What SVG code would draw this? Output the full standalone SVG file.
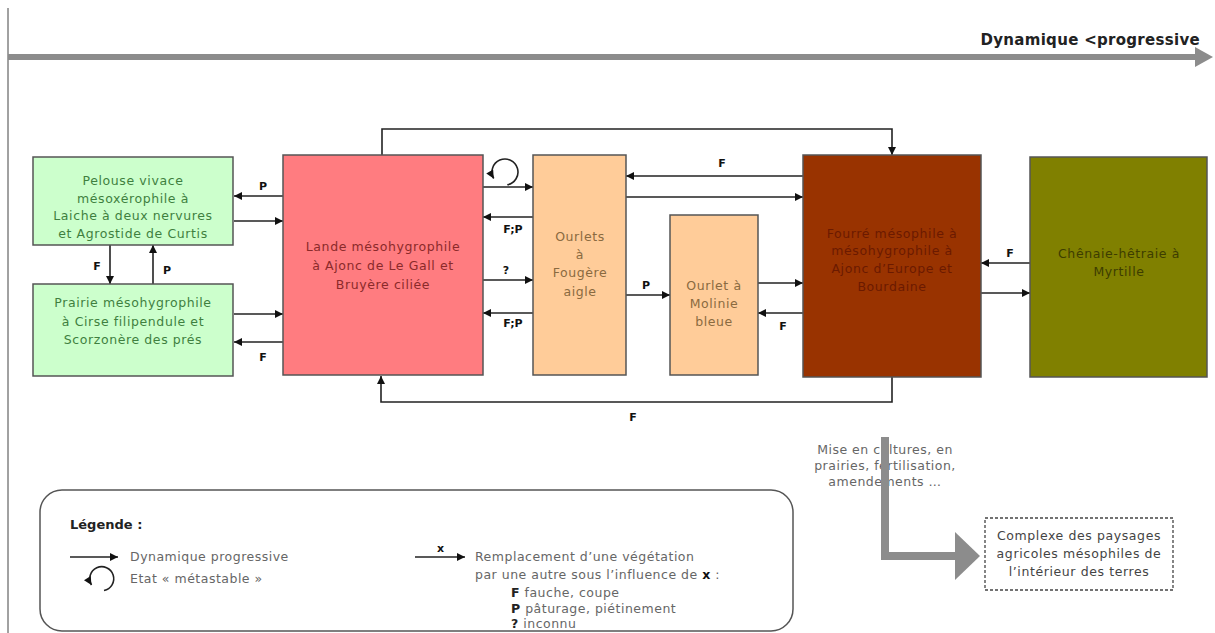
<svg xmlns="http://www.w3.org/2000/svg" width="1215" height="633" viewBox="0 0 1215 633">
<defs>
<marker id="ah" viewBox="0 0 10 10" refX="10" refY="5" markerWidth="9" markerHeight="8" markerUnits="userSpaceOnUse" orient="auto"><path d="M0,0 L10,5 L0,10 z" fill="#111"/></marker>
<style>
.box{stroke:#555;stroke-width:1.5}
.t{font-family:"DejaVu Sans","Noto Sans",sans-serif;font-size:12.5px;letter-spacing:0.6px;text-anchor:middle}
.lbl{font-family:"DejaVu Sans","Noto Sans",sans-serif;font-size:11px;font-weight:bold;text-anchor:middle;fill:#111}
.c{fill:none;stroke:#222;stroke-width:1.6;marker-end:url(#ah)}
.lg{font-family:"DejaVu Sans","Noto Sans",sans-serif;font-size:12.5px;letter-spacing:0.5px;fill:#666}
.gray{fill:none;stroke:#8c8c8c}
</style>
</defs>
<rect width="1215" height="633" fill="#fff"/>
<line x1="8" y1="8" x2="8" y2="633" stroke="#444" stroke-width="1"/>

<g id="top-arrow">
<rect x="8" y="54" width="1189" height="6" fill="#8c8c8c"/>
<polygon points="1195,47 1213,57 1195,67" fill="#8c8c8c"/>
<text x="1200" y="45" font-family="DejaVu Sans, sans-serif" font-size="15" font-weight="bold" text-anchor="end" letter-spacing="0.3" fill="#222">Dynamique &lt;progressive</text>
</g>

<g id="connectors">
<path class="c" d="M283,196 H234"/>
<path class="c" d="M234,221 H283"/>
<path class="c" d="M234,314 H283"/>
<path class="c" d="M283,342 H234"/>
<path class="c" d="M110,245 V284"/>
<path class="c" d="M153,284 V245"/>
<path class="c" d="M483,187 H533"/>
<path class="c" d="M533,217 H483"/>
<path class="c" d="M483,280 H533"/>
<path class="c" d="M533,313 H483"/>
<path class="c" d="M507.3,184.8 A13,13 0 1 0 493.7,178.5"/>
<path class="c" d="M803,176 H626"/>
<path class="c" d="M626,197 H803"/>
<path class="c" d="M626,295 H670"/>
<path class="c" d="M758,283 H803"/>
<path class="c" d="M803,313 H758"/>
<path class="c" d="M1030,263 H981"/>
<path class="c" d="M981,293 H1030"/>
<path class="c" d="M382,155 V129 H892 V155"/>
<path class="c" d="M892,377 V402 H381 V376"/>
<text class="lbl" x="263" y="190">P</text>
<text class="lbl" x="263" y="361">F</text>
<text class="lbl" x="97" y="270">F</text>
<text class="lbl" x="167" y="274">P</text>
<text class="lbl" x="513" y="233">F;P</text>
<text class="lbl" x="506" y="274">?</text>
<text class="lbl" x="513" y="327">F;P</text>
<text class="lbl" x="722" y="167">F</text>
<text class="lbl" x="646" y="289">P</text>
<text class="lbl" x="783" y="330">F</text>
<text class="lbl" x="1010" y="257">F</text>
<text class="lbl" x="633" y="421">F</text>
</g>

<g id="pelouse">
<rect class="box" x="33" y="157" width="200" height="88" fill="#ccffcc"/>
<text class="t" fill="#3f7f3f"><tspan x="133" y="185">Pelouse vivace</tspan><tspan x="133" y="203">mésoxérophile à</tspan><tspan x="133" y="220">Laiche à deux nervures</tspan><tspan x="133" y="238">et Agrostide de Curtis</tspan></text>
</g>
<g id="prairie">
<rect class="box" x="33" y="284" width="200" height="92" fill="#ccffcc"/>
<text class="t" fill="#3f7f3f"><tspan x="133" y="307">Prairie mésohygrophile</tspan><tspan x="133" y="326">à Cirse filipendule et</tspan><tspan x="133" y="344">Scorzonère des prés</tspan></text>
</g>
<g id="lande">
<rect class="box" x="283" y="155" width="200" height="220" fill="#ff7c80"/>
<text class="t" fill="#8b2a2a"><tspan x="383" y="251">Lande mésohygrophile</tspan><tspan x="383" y="270">à Ajonc de Le Gall et</tspan><tspan x="383" y="289">Bruyère ciliée</tspan></text>
</g>
<g id="ourlets">
<rect class="box" x="533" y="155" width="93" height="220" fill="#ffcc99"/>
<text class="t" fill="#8a6a40"><tspan x="580" y="241">Ourlets</tspan><tspan x="580" y="259">à</tspan><tspan x="580" y="277">Fougère</tspan><tspan x="580" y="296">aigle</tspan></text>
</g>
<g id="molinie">
<rect class="box" x="670" y="215" width="88" height="160" fill="#ffcc99"/>
<text class="t" fill="#8a6a40"><tspan x="714" y="290">Ourlet à</tspan><tspan x="714" y="308">Molinie</tspan><tspan x="714" y="326">bleue</tspan></text>
</g>
<g id="fourre">
<rect class="box" x="803" y="155" width="178" height="222" fill="#993300"/>
<text class="t" fill="#6b1a00"><tspan x="892" y="238">Fourré mésophile à</tspan><tspan x="892" y="255">mésohygrophile à</tspan><tspan x="892" y="273">Ajonc d’Europe et</tspan><tspan x="892" y="291">Bourdaine</tspan></text>
</g>
<g id="chenaie">
<rect class="box" x="1030" y="157" width="177" height="220" fill="#808000"/>
<text class="t" fill="#3d3d00"><tspan x="1119" y="258">Chênaie-hêtraie à</tspan><tspan x="1119" y="276">Myrtille</tspan></text>
</g>

<g id="legend">
<rect x="40" y="490" width="753" height="141" rx="22" fill="none" stroke="#555" stroke-width="1.5"/>
<text x="70" y="529" font-family="DejaVu Sans, sans-serif" font-size="13" font-weight="bold" fill="#222">Légende :</text>
<path class="c" d="M70,557 H118"/>
<text class="lg" x="130" y="561">Dynamique progressive</text>
<path class="c" d="M104,590.5 A12,12 0 1 0 91.5,585"/>
<text class="lg" x="130" y="583">Etat « métastable »</text>
<path class="c" d="M415,557 H465"/>
<text x="437" y="552" font-family="DejaVu Sans, sans-serif" font-size="11" font-weight="bold" fill="#111">x</text>
<text class="lg" x="475" y="561">Remplacement d’une végétation</text>
<text class="lg" x="475" y="579">par une autre sous l’influence de <tspan font-weight="bold" fill="#111">x</tspan> :</text>
<text class="lg" x="511" y="597"><tspan font-weight="bold" fill="#222">F</tspan>  fauche, coupe</text>
<text class="lg" x="511" y="613"><tspan font-weight="bold" fill="#222">P</tspan>  pâturage, piétinement</text>
<text class="lg" x="511" y="628"><tspan font-weight="bold" fill="#222">?</tspan> inconnu</text>
</g>

<g id="agri-arrow">
<text class="lg" font-size="11" letter-spacing="0.3" text-anchor="middle" fill="#555"><tspan x="885" y="454">Mise en cultures, en</tspan><tspan x="885" y="470">prairies, fertilisation,</tspan><tspan x="885" y="486">amendements …</tspan></text>
<path class="gray" stroke-width="8" d="M885,437 V556 H957"/>
<polygon points="955,532 980,556 955,580" fill="#8c8c8c"/>
</g>
<g id="complexe">
<rect x="985" y="518" width="188" height="72" fill="none" stroke="#444" stroke-width="1.3" stroke-dasharray="3,2"/>
<text class="t" font-size="12.5" fill="#444"><tspan x="1079" y="540">Complexe des paysages</tspan><tspan x="1079" y="558">agricoles mésophiles de</tspan><tspan x="1079" y="576">l’intérieur des terres</tspan></text>
</g>
</svg>
